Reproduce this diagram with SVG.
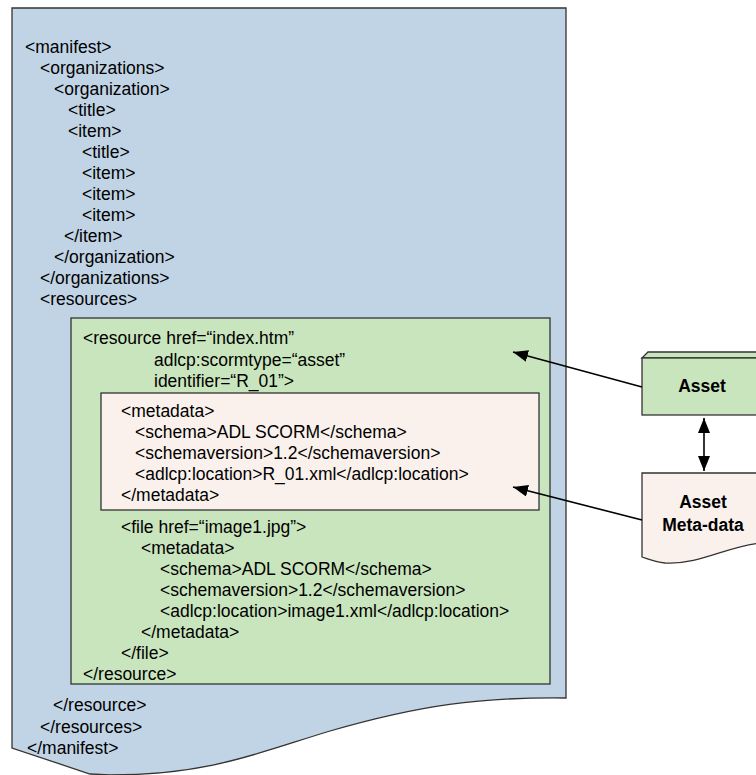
<svg xmlns="http://www.w3.org/2000/svg" width="756" height="775" viewBox="0 0 756 775">
<style>
text{font-family:"Liberation Sans",Arial,sans-serif;font-size:17.5px;fill:#000}
.b{font-weight:bold;text-anchor:middle}
.sh{stroke:#333;stroke-width:1.3}
.blue{fill:#C1D4E5}
.green{fill:#C9E5BD}
.pink{fill:#FAF1EC}
.con{stroke:#000;stroke-width:1.6;fill:none}
</style>
<defs>
<marker id="ah" markerUnits="userSpaceOnUse" markerWidth="16" markerHeight="12" refX="15" refY="6" orient="auto-start-reverse">
<path d="M0,0 L15,6 L0,12 Z" fill="#000"/>
</marker>
</defs>
<rect width="756" height="775" fill="#fff"/>
<g id="manifest">
<path class="sh blue" d="M12,8 L566,8 L566,698 C480,697 420,705 330,731 C260,752 210,775 110,775 L90,774 L12,748 Z"/>
<text x="25" y="53">&lt;manifest&gt;</text>
<text x="40" y="74">&lt;organizations&gt;</text>
<text x="54" y="95">&lt;organization&gt;</text>
<text x="68" y="116">&lt;title&gt;</text>
<text x="68" y="137">&lt;item&gt;</text>
<text x="82" y="158">&lt;title&gt;</text>
<text x="82" y="179">&lt;item&gt;</text>
<text x="82" y="200">&lt;item&gt;</text>
<text x="82" y="221">&lt;item&gt;</text>
<text x="64" y="242">&lt;/item&gt;</text>
<text x="54" y="263">&lt;/organization&gt;</text>
<text x="40" y="284">&lt;/organizations&gt;</text>
<text x="40" y="305">&lt;resources&gt;</text>
<text x="53" y="711">&lt;/resource&gt;</text>
<text x="40" y="733">&lt;/resources&gt;</text>
<text x="27" y="754">&lt;/manifest&gt;</text>
</g>
<g id="resource">
<rect class="sh green" x="71" y="318" width="479" height="366"/>
<text x="83" y="344">&lt;resource href=“index.htm”</text>
<text x="154" y="366">adlcp:scormtype=“asset”</text>
<text x="154" y="387">identifier=“R_01”&gt;</text>
<text x="121" y="533">&lt;file href=“image1.jpg”&gt;</text>
<text x="141" y="554">&lt;metadata&gt;</text>
<text x="160" y="575">&lt;schema&gt;ADL SCORM&lt;/schema&gt;</text>
<text x="160" y="596">&lt;schemaversion&gt;1.2&lt;/schemaversion&gt;</text>
<text x="160" y="617">&lt;adlcp:location&gt;image1.xml&lt;/adlcp:location&gt;</text>
<text x="141" y="638">&lt;/metadata&gt;</text>
<text x="121" y="659">&lt;/file&gt;</text>
<text x="83" y="680">&lt;/resource&gt;</text>
</g>
<g id="metadata">
<rect class="sh pink" x="101" y="393" width="438" height="117"/>
<text x="121" y="417">&lt;metadata&gt;</text>
<text x="135" y="438">&lt;schema&gt;ADL SCORM&lt;/schema&gt;</text>
<text x="135" y="459">&lt;schemaversion&gt;1.2&lt;/schemaversion&gt;</text>
<text x="135" y="480">&lt;adlcp:location&gt;R_01.xml&lt;/adlcp:location&gt;</text>
<text x="121" y="501">&lt;/metadata&gt;</text>
</g>
<g id="asset">
<path class="sh green" d="M642,358 L648,352 L762,352 L762,358 Z"/>
<rect class="sh green" x="642" y="358" width="120" height="57"/>
<text class="b" x="702" y="392">Asset</text>
</g>
<g id="asset-metadata">
<path class="sh pink" d="M642,473 L762,473 L762,543 C730,545 700,565 665,563 C655,562 648,559 642,557 Z"/>
<text class="b" x="703" y="508">Asset</text>
<text class="b" x="703" y="531">Meta-data</text>
</g>
<g id="connectors">
<line class="con" x1="642" y1="387" x2="513" y2="352" marker-end="url(#ah)"/>
<line class="con" x1="642" y1="520" x2="513" y2="487" marker-end="url(#ah)"/>
<line class="con" x1="704" y1="418" x2="704" y2="471" marker-start="url(#ah)" marker-end="url(#ah)"/>
</g>
</svg>
